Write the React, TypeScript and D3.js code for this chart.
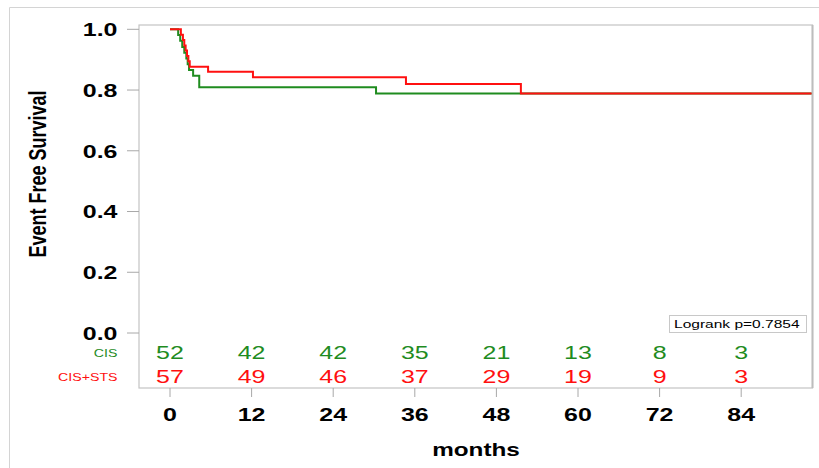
import React from "react";
import * as d3 from "d3";

const cisTimes = [0, 1.2, 1.5, 1.8, 2.1, 2.4, 2.6, 2.8, 3.4, 4.3, 30.3];
const cisSurv = [1, 0.981, 0.962, 0.942, 0.923, 0.904, 0.885, 0.866, 0.847, 0.809, 0.789];
const stsTimes = [0, 1.6, 1.9, 2.1, 2.3, 2.5, 2.7, 2.9, 5.6, 12.2, 34.7, 51.6];
const stsSurv = [1, 0.982, 0.965, 0.947, 0.93, 0.912, 0.895, 0.877, 0.86, 0.842, 0.82, 0.789];
const riskTimes = [0, 12, 24, 36, 48, 60, 72, 84];
const cisRisk = [52, 42, 42, 35, 21, 13, 8, 3];
const stsRisk = [57, 49, 46, 37, 29, 19, 9, 3];
const yTicks = [0, 0.2, 0.4, 0.6, 0.8, 1.0];
const groupLabels = ["CIS", "CIS+STS"];
const pValueText = "Logrank p=0.7854";

const GREEN = "#1f8c1f";
const RED = "#ff1010";
const FONT = "'Liberation Sans', Arial, sans-serif";
const SX = 1.35;

const W = 819, H = 468;
const left = 139, right = 812.5, top = 25, bottom = 388;

export default function App() {
  const x = d3.scaleLinear().domain([0, 84]).range([170, 741.2]);
  const y = d3.scaleLinear().domain([0, 1]).range([333, 29.3]);
  const tMax = x.invert(right - 1);

  const line = d3
    .line<[number, number]>()
    .x((d) => x(d[0]))
    .y((d) => y(d[1]))
    .curve(d3.curveStepAfter);

  const mk = (ts: number[], ss: number[]): [number, number][] => {
    const pts = ts.map((t, i) => [t, ss[i]] as [number, number]);
    pts.push([tMax, ss[ss.length - 1]]);
    return pts;
  };

  const T = (props: {
    x: number; y: number; anchor?: string; size: number; weight?: string; fill?: string; children: React.ReactNode;
  }) => (
    <text
      transform={`translate(${props.x},${props.y}) scale(${SX},1)`}
      textAnchor={props.anchor || "start"}
      fontSize={props.size}
      fontWeight={props.weight || "normal"}
      fill={props.fill || "#000"}
      fontFamily={FONT}
    >
      {props.children}
    </text>
  );

  return (
    <svg width={W} height={H} style={{ position: "absolute", left: 0, top: 0, background: "#fff" }}>
      {/* outer frame */}
      <line x1={9.5} y1={7.5} x2={W} y2={7.5} stroke="#d4d4d4" strokeWidth={1} />
      <line x1={9.5} y1={7.5} x2={9.5} y2={H} stroke="#d4d4d4" strokeWidth={1} />

      {/* plot frame */}
      <rect x={left} y={top} width={right - left} height={bottom - top} fill="none" stroke="#c4c4c4" strokeWidth={1.2} />
      <line x1={right} y1={top} x2={right} y2={bottom} stroke="#bdbdbd" strokeWidth={2} />

      {/* y ticks */}
      {yTicks.map((v) => (
        <g key={"yt" + v}>
          <line x1={127} x2={left} y1={y(v)} y2={y(v)} stroke="#a8a8a8" strokeWidth={1} />
          <T x={117.5} y={y(v) + 6.8} anchor="end" size={18.5} weight="bold">
            {v.toFixed(1)}
          </T>
        </g>
      ))}

      {/* x ticks */}
      {riskTimes.map((t) => (
        <g key={"xt" + t}>
          <line x1={x(t)} x2={x(t)} y1={bottom} y2={397} stroke="#a8a8a8" strokeWidth={1} />
          <T x={x(t)} y={420.5} anchor="middle" size={18.5} weight="bold">
            {t}
          </T>
        </g>
      ))}

      {/* axis titles */}
      <text
        transform={`translate(46,174) scale(${SX},1) rotate(-90)`}
        textAnchor="middle"
        fontSize={18}
        fontWeight="bold"
        fontFamily={FONT}
        fill="#000"
      >
        Event Free Survival
      </text>
      <T x={476} y={456} anchor="middle" size={18} weight="bold">
        months
      </T>

      {/* curves */}
      <path d={line(mk(cisTimes, cisSurv)) || ""} fill="none" stroke={GREEN} strokeWidth={2} />
      <path d={line(mk(stsTimes, stsSurv)) || ""} fill="none" stroke={RED} strokeWidth={2} />

      {/* risk table */}
      <T x={117.5} y={356.7} anchor="end" size={10.5} fill={GREEN}>
        {groupLabels[0]}
      </T>
      <T x={117.5} y={380.7} anchor="end" size={10.5} fill={RED}>
        {groupLabels[1]}
      </T>
      {riskTimes.map((t, i) => (
        <g key={"r" + t}>
          <T x={x(t)} y={359.3} anchor="middle" size={18.5} fill={GREEN}>
            {cisRisk[i]}
          </T>
          <T x={x(t)} y={382.7} anchor="middle" size={18.5} fill={RED}>
            {stsRisk[i]}
          </T>
        </g>
      ))}

      {/* logrank box */}
      <rect x={669.5} y={315.5} width={137} height={17} fill="#fff" stroke="#c8c8c8" strokeWidth={1} />
      <T x={674} y={327.8} size={11.5}>
        {pValueText}
      </T>
    </svg>
  );
}
